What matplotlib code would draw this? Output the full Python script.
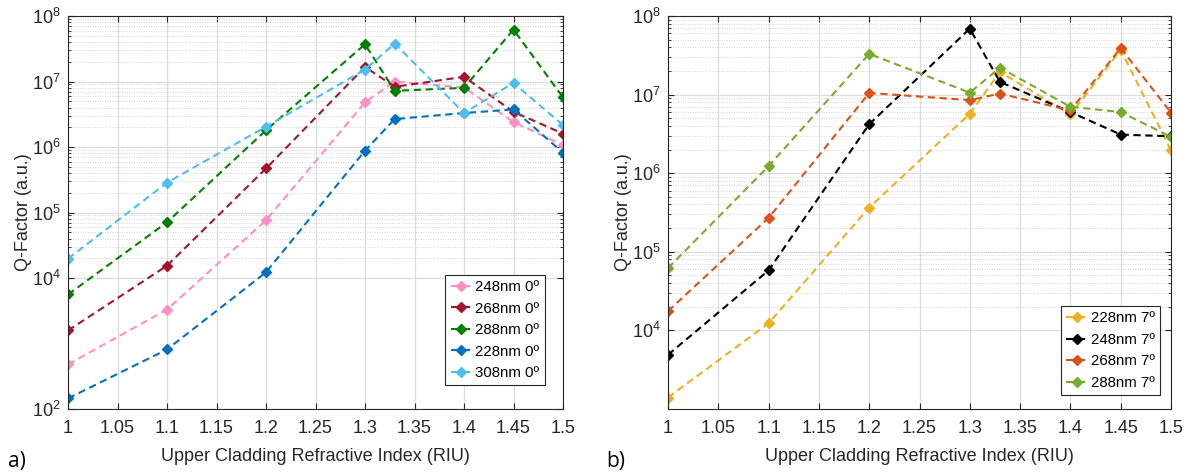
import numpy as np
import matplotlib
matplotlib.use("Agg")
import matplotlib.pyplot as plt
from matplotlib.ticker import FixedLocator, LogFormatterSciNotation, NullFormatter

plt.rcParams['font.family'] = ['Liberation Sans', 'DejaVu Sans']
plt.rcParams['mathtext.fontset'] = 'custom'
plt.rcParams['mathtext.rm'] = 'Liberation Sans'
plt.rcParams['mathtext.it'] = 'Liberation Sans'
plt.rcParams['mathtext.default'] = 'regular'

x = [1.0, 1.1, 1.2, 1.3, 1.33, 1.4, 1.45, 1.5]

# Panel a) (0 degrees)
q_248_0 = [480, 3.3e3, 7.6e4, 4.8e6, 1.0e7, 8.1e6, 2.4e6, 1.07e6]
q_268_0 = [1.58e3, 1.54e4, 4.7e5, 1.67e7, 8.3e6, 1.18e7, 3.45e6, 1.6e6]
q_288_0 = [5.6e3, 7.1e4, 1.8e6, 3.7e7, 7.2e6, 8.0e6, 6.2e7, 5.7e6]
q_228_0 = [145, 811, 1.22e4, 8.8e5, 2.67e6, 3.3e6, 3.75e6, 8.2e5]
q_308_0 = [1.97e4, 2.86e5, 2.04e6, 1.52e7, 3.8e7, 3.3e6, 9.5e6, 2.16e6]

# Panel b) (7 degrees)
q_228_7 = [1.4e3, 1.23e4, 3.66e5, 5.7e6, 1.94e7, 5.6e6, 3.7e7, 1.96e6]
q_248_7 = [4.9e3, 5.8e4, 4.2e6, 6.9e7, 1.45e7, 6.0e6, 3.1e6, 2.95e6]
q_268_7 = [1.76e4, 2.7e5, 1.05e7, 8.5e6, 1.03e7, 6.3e6, 3.9e7, 5.9e6]
q_288_7 = [6.2e4, 1.23e6, 3.3e7, 1.06e7, 2.2e7, 7.0e6, 6.0e6, 2.9e6]

labels_a = ["248nm 0º", "268nm 0º", "288nm 0º", "228nm 0º", "308nm 0º"]
labels_b = ["228nm 7º", "248nm 7º", "268nm 7º", "288nm 7º"]

xticks = [1, 1.05, 1.1, 1.15, 1.2, 1.25, 1.3, 1.35, 1.4, 1.45, 1.5]
xticklabels = ["1", "1.05", "1.1", "1.15", "1.2", "1.25", "1.3", "1.35", "1.4", "1.45", "1.5"]

series_a = [q_248_0, q_268_0, q_288_0, q_228_0, q_308_0]
colors_a = ["#FF8FC4", "#A2142F", "#008000", "#0072BD", "#4DBEEE"]
series_b = [q_228_7, q_248_7, q_268_7, q_288_7]
colors_b = ["#EDB120", "#000000", "#D95319", "#77AC30"]

W, H = 1194, 475
fig = plt.figure(figsize=(W / 100, H / 100), dpi=100)

def make_ax(rect, series, colors, labels, ylim, yticks, legend_anchor):
    ax = fig.add_axes(rect)
    for s, c, l in zip(series, colors, labels):
        ax.plot(x, s, linestyle=(0, (3.5, 2.2)), color=c, linewidth=1.5,
                marker='D', markersize=5.5, markerfacecolor=c, markeredgecolor=c, label=l)
    ax.set_yscale('log')
    ax.set_xlim(1, 1.5)
    ax.set_ylim(*ylim)
    ax.set_xticks(xticks)
    ax.set_xticklabels(xticklabels)
    ax.yaxis.set_major_locator(FixedLocator(yticks))
    ax.yaxis.set_major_formatter(LogFormatterSciNotation())
    minors = [m * 10 ** e for e in range(4, 8) for m in range(2, 10)]
    ax.yaxis.set_minor_locator(FixedLocator(minors))
    ax.yaxis.set_minor_formatter(NullFormatter())
    ax.grid(True, which='major', color='#dcdcdc', linewidth=0.9, linestyle='-')
    ax.grid(True, which='minor', axis='y', color='#d4d4d4', linewidth=0.7, linestyle=(0, (1, 1.5)))
    ax.set_axisbelow(True)
    ax.tick_params(which='both', direction='in', top=True, right=True, colors='#262626',
                   labelcolor='#262626', labelsize=13)
    ax.tick_params(which='major', length=4, width=0.8, pad=8)
    ax.tick_params(axis='y', which='major', pad=5)
    ax.tick_params(which='minor', length=2, width=0.6)
    for sp in ax.spines.values():
        sp.set_color('#262626')
        sp.set_linewidth(0.8)
    ax.set_xlabel("Upper Cladding Refractive Index (RIU)", fontsize=13, color='#262626', labelpad=8)
    ax.set_ylabel("Q-Factor (a.u.)", fontsize=13, color='#262626', labelpad=0)
    leg = ax.legend(loc='lower right', bbox_to_anchor=legend_anchor, fontsize=10.8,
                    frameon=True, fancybox=False, edgecolor='#262626', framealpha=1,
                    handlelength=1.4, handletextpad=0.25, borderpad=0.35, labelspacing=0.5,
                    borderaxespad=0.0)
    leg.get_frame().set_linewidth(0.8)
    return ax

axa = make_ax([68 / W, 1 - 409 / H, 495 / W, 393 / H], series_a, colors_a, labels_a,
              (1e2, 1e8), [1e2, 1e4, 1e5, 1e6, 1e7, 1e8], (0.963, 0.06))
axb = make_ax([668 / W, 1 - 409 / H, 503 / W, 393 / H], series_b, colors_b, labels_b,
              (1e3, 1e8), [1e4, 1e5, 1e6, 1e7, 1e8], (0.978, 0.035))

fig.text(8 / W, 1 - 461 / H, "a)", fontsize=15, family=['Open Sans', 'DejaVu Sans'], va='center')
fig.text(606 / W, 1 - 461 / H, "b)", fontsize=15, family=['Open Sans', 'DejaVu Sans'], va='center')

fig.savefig("out.png", dpi=100)
